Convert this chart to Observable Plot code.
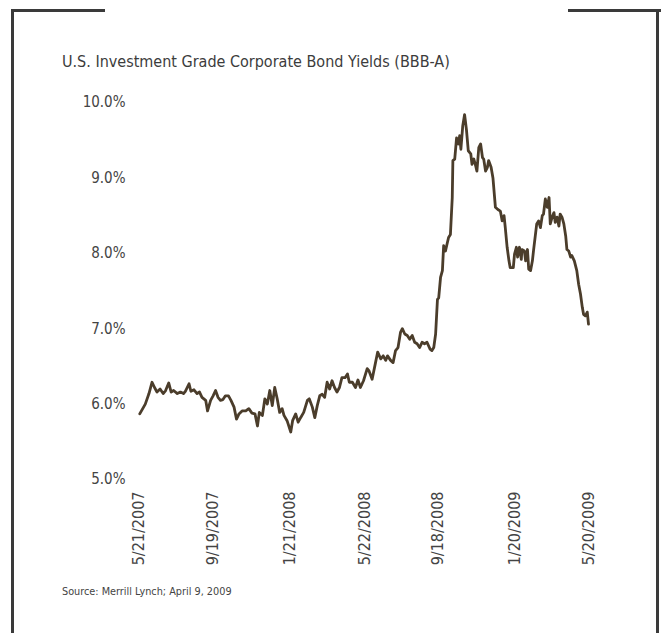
<!DOCTYPE html>
<html>
<head>
<meta charset="utf-8">
<script src="https://cdn.jsdelivr.net/npm/d3@7"></script>
<script src="https://cdn.jsdelivr.net/npm/@observablehq/plot@0.6"></script>
<style>
  html, body { margin: 0; padding: 0; background: #fff; }
  #wrap { position: relative; width: 661px; height: 633px; overflow: hidden;
          font-family: "Liberation Sans Narrow", "Arial Narrow", "DejaVu Sans Condensed", sans-serif; }
  .rule { position: absolute; background: #3a3a3a; }
  #title { position: absolute; left: 62px; top: 52px; font-size: 16px; color: #3c3c3c; white-space: nowrap; }
  #source { position: absolute; left: 62px; top: 585px; font-size: 10.8px; color: #444; white-space: nowrap; }
  #chart { position: absolute; left: 0; top: 0; }
</style>
</head>
<body>
<div id="wrap">
  <div class="rule" style="left:11px; top:9px; width:3px; height:624px;"></div>
  <div class="rule" style="left:11px; top:9px; width:94px; height:3px;"></div>
  <div class="rule" style="left:656px; top:9px; width:3px; height:624px;"></div>
  <div class="rule" style="left:568px; top:9px; width:93px; height:3px;"></div>
  <div id="title">U.S. Investment Grade Corporate Bond Yields (BBB-A)</div>
  <div id="chart"></div>
  <div id="source">Source: Merrill Lynch; April 9, 2009</div>
</div>
<script>
// Series: observation dates and BBB-A corporate yields (%)
const dates = [
  "2007-05-23","2007-06-01","2007-06-07","2007-06-12","2007-06-16","2007-06-20","2007-06-25","2007-06-30",
  "2007-07-04","2007-07-09","2007-07-13","2007-07-17","2007-07-23","2007-07-28","2007-08-02","2007-08-05",
  "2007-08-11","2007-08-14","2007-08-19","2007-08-24","2007-08-28","2007-09-01","2007-09-07","2007-09-10",
  "2007-09-15","2007-09-19","2007-09-23","2007-09-27","2007-10-01","2007-10-05","2007-10-09","2007-10-14",
  "2007-10-18","2007-10-23","2007-10-27","2007-10-31","2007-11-05","2007-11-11","2007-11-16","2007-11-21",
  "2007-11-26","2007-11-30","2007-12-03","2007-12-08","2007-12-12","2007-12-16","2007-12-20","2007-12-24",
  "2007-12-28","2008-01-01","2008-01-05","2008-01-09","2008-01-12","2008-01-17","2008-01-23","2008-01-26",
  "2008-01-31","2008-02-04","2008-02-08","2008-02-13","2008-02-19","2008-02-22","2008-02-27","2008-03-02",
  "2008-03-06","2008-03-10","2008-03-14","2008-03-18","2008-03-22","2008-03-26","2008-03-30","2008-04-03",
  "2008-04-07","2008-04-11","2008-04-15","2008-04-20","2008-04-24","2008-04-27","2008-05-02","2008-05-07",
  "2008-05-11","2008-05-15","2008-05-20","2008-05-26","2008-05-29","2008-06-03","2008-06-08","2008-06-12",
  "2008-06-17","2008-06-21","2008-06-25","2008-06-28","2008-07-03","2008-07-07","2008-07-11","2008-07-15",
  "2008-07-19","2008-07-22","2008-07-26","2008-07-30","2008-08-03","2008-08-07","2008-08-11","2008-08-15",
  "2008-08-19","2008-08-23","2008-08-27","2008-08-31","2008-09-05","2008-09-08","2008-09-11","2008-09-14",
  "2008-09-17","2008-09-19","2008-09-22","2008-09-25","2008-09-27","2008-09-30","2008-10-03","2008-10-05",
  "2008-10-08","2008-10-11","2008-10-12","2008-10-15","2008-10-18","2008-10-21","2008-10-23","2008-10-25",
  "2008-10-28","2008-10-31","2008-11-03","2008-11-06","2008-11-10","2008-11-12","2008-11-15","2008-11-18",
  "2008-11-20","2008-11-23","2008-11-26","2008-11-29","2008-12-01","2008-12-04","2008-12-07","2008-12-09",
  "2008-12-13","2008-12-16","2008-12-20","2008-12-24","2008-12-28","2008-12-31","2009-01-03","2009-01-05",
  "2009-01-08","2009-01-11","2009-01-13","2009-01-18","2009-01-20","2009-01-23","2009-01-25","2009-01-28",
  "2009-01-31","2009-02-01","2009-02-05","2009-02-07","2009-02-10","2009-02-12","2009-02-15","2009-02-18",
  "2009-02-20","2009-02-25","2009-02-28","2009-03-03","2009-03-06","2009-03-08","2009-03-11","2009-03-14",
  "2009-03-17","2009-03-19","2009-03-22","2009-03-25","2009-03-27","2009-03-30","2009-04-02","2009-04-04",
  "2009-04-07","2009-04-10","2009-04-13","2009-04-15","2009-04-18","2009-04-21","2009-04-23","2009-04-27",
  "2009-05-01","2009-05-04","2009-05-07","2009-05-10","2009-05-12","2009-05-15","2009-05-18","2009-05-20"
];
const yields = [
  5.87,6.00,6.14,6.29,6.22,6.16,6.20,6.14,
  6.18,6.28,6.16,6.18,6.14,6.16,6.14,6.17,
  6.27,6.17,6.19,6.14,6.16,6.09,6.05,5.91,
  6.05,6.11,6.18,6.09,6.05,6.06,6.11,6.11,
  6.05,5.96,5.80,5.87,5.91,5.91,5.94,5.88,
  5.87,5.71,5.89,5.85,6.07,6.00,6.18,5.98,
  6.22,6.07,5.89,5.94,5.85,5.78,5.63,5.78,
  5.87,5.76,5.82,5.89,6.05,6.07,5.96,5.82,
  5.98,6.11,6.13,6.09,6.29,6.20,6.31,6.22,
  6.16,6.22,6.35,6.35,6.40,6.29,6.29,6.22,
  6.32,6.22,6.31,6.47,6.44,6.33,6.53,6.69,
  6.60,6.64,6.58,6.64,6.58,6.55,6.71,6.75,
  6.95,7.00,6.93,6.91,6.86,6.91,6.82,6.80,
  6.75,6.82,6.80,6.82,6.73,6.71,6.75,6.93,
  7.39,7.41,7.68,7.77,8.10,8.03,8.14,8.21,
  8.25,8.74,9.23,9.25,9.53,9.45,9.56,9.38,
  9.69,9.84,9.64,9.36,9.32,9.18,9.25,9.16,
  9.09,9.40,9.45,9.27,9.25,9.09,9.14,9.23,
  9.14,9.00,8.61,8.58,8.56,8.43,8.50,8.34,
  8.08,7.90,7.81,7.81,7.99,8.08,7.95,8.08,
  7.92,8.05,8.03,7.90,8.05,7.79,7.77,7.90,
  8.05,8.39,8.43,8.34,8.50,8.52,8.72,8.61,
  8.74,8.39,8.48,8.54,8.41,8.48,8.36,8.52,
  8.48,8.39,8.23,8.05,8.03,7.95,7.97,7.90,
  7.77,7.59,7.46,7.28,7.19,7.17,7.22,7.06
];
// Axis ticks
const xTickDates = ["2007-05-21","2007-09-19","2008-01-21","2008-05-22","2008-09-18","2009-01-20","2009-05-20"];
const xTickLabels = ["5/21/2007","9/19/2007","1/21/2008","5/22/2008","9/18/2008","1/20/2009","5/20/2009"];
const yTicks = [5, 6, 7, 8, 9, 10];
const yTickLabels = ["5.0%","6.0%","7.0%","8.0%","9.0%","10.0%"];

const parse = d3.utcParse("%Y-%m-%d");
const data = dates.map((d, i) => ({date: parse(d), value: yields[i]}));
const tickDates = xTickDates.map(parse);
const labelOf = new Map(tickDates.map((d, i) => [+d, xTickLabels[i]]));
const yLabelOf = new Map(yTicks.map((v, i) => [v, yTickLabels[i]]));

const chart = Plot.plot({
  width: 661,
  height: 633,
  marginLeft: 138,
  marginRight: 73,
  marginTop: 102,
  marginBottom: 154,
  style: {fontFamily: '"Liberation Sans Narrow", "Arial Narrow", "DejaVu Sans Condensed", sans-serif', background: "transparent", overflow: "visible"},
  x: {type: "utc", domain: [parse("2007-05-21"), parse("2009-05-20")]},
  y: {domain: [5, 10]},
  marks: [
    Plot.axisY({ticks: yTicks, tickSize: 0, tickPadding: 13, tickFormat: v => yLabelOf.get(v), fontSize: 15, fill: "#444", label: null}),
    Plot.axisX({ticks: tickDates, tickSize: 0, tickPadding: 12, tickRotate: -90, tickFormat: d => labelOf.get(+d), fontSize: 16, fill: "#444", label: null}),
    Plot.lineY(data, {x: "date", y: "value", stroke: "#4b3d2b", strokeWidth: 2.8, curve: "linear"})
  ]
});
document.getElementById("chart").appendChild(chart);
</script>
</body>
</html>
